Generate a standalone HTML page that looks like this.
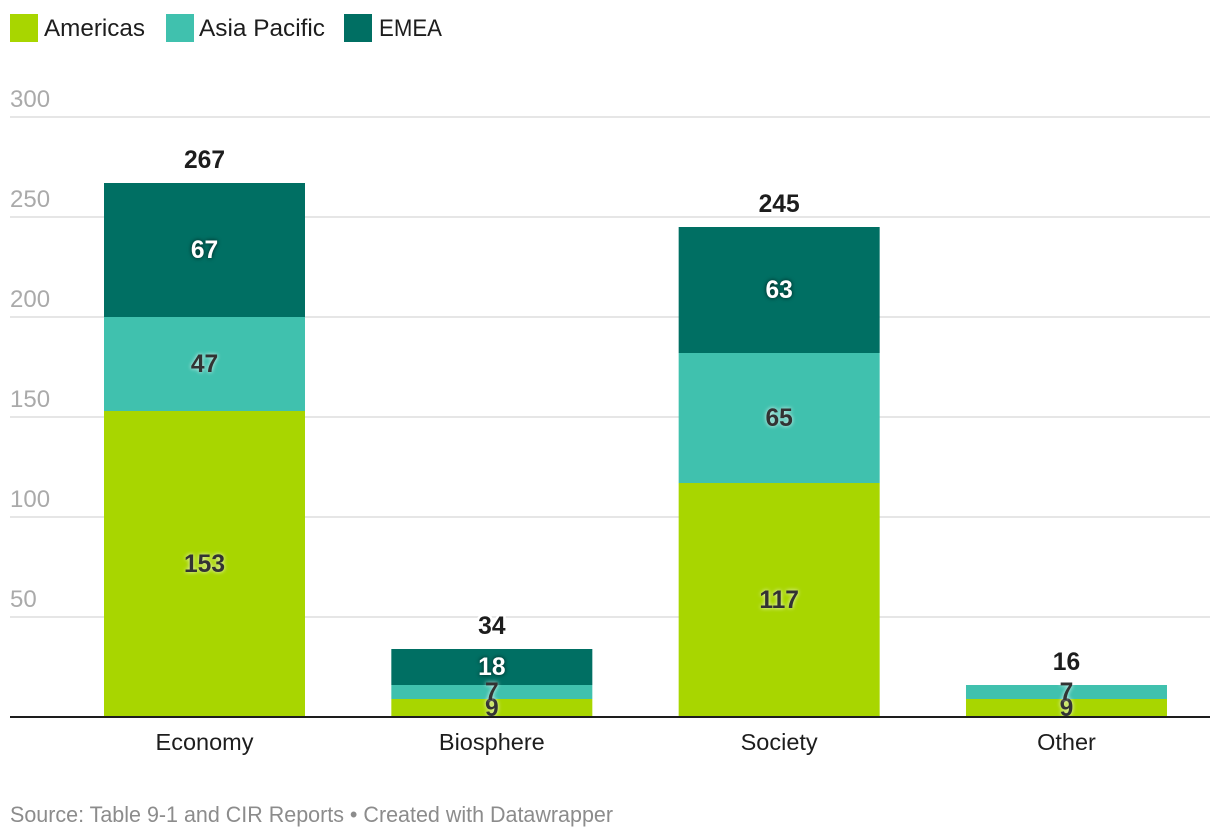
<!DOCTYPE html>
<html lang="en">
<head>
<meta charset="utf-8">
<title>Stacked bar chart</title>
<style>
  html, body { margin: 0; padding: 0; background: #fff; }
  body { width: 1220px; height: 838px; overflow: hidden; }
  svg { display: block; font-family: "Liberation Sans", sans-serif; }
  .seg-light { fill: #fff; filter: drop-shadow(0 0 2px rgba(0,0,0,.75)); }
  .seg-dark { fill: #333; filter: drop-shadow(0 0 2px rgba(255,255,255,.85)); }
</style>
</head>
<body>
<svg id="chart" width="1220" height="838" viewBox="0 0 1220 838" xmlns="http://www.w3.org/2000/svg">
  <g>
    <g>
      <rect x="10" y="14" width="28" height="28" fill="#a8d600"></rect>
      <text x="44" y="36" font-size="24" fill="#1d1d1d" textLength="101" lengthAdjust="spacingAndGlyphs">Americas</text>
    </g>
    <g>
      <rect x="166" y="14" width="28" height="28" fill="#40c1ae"></rect>
      <text x="199" y="36" font-size="24" fill="#1d1d1d" textLength="126" lengthAdjust="spacingAndGlyphs">Asia Pacific</text>
    </g>
    <g>
      <rect x="344" y="14" width="28" height="28" fill="#006f63"></rect>
      <text x="379" y="36" font-size="24" fill="#1d1d1d" textLength="63" lengthAdjust="spacingAndGlyphs">EMEA</text>
    </g>
  </g>
  <g id="grid"></g>
  <g id="bars"></g>
  <rect x="10" y="716" width="1200" height="2" fill="#1d1d1d"></rect>
  <g id="cats"></g>
  <text x="10" y="822" font-size="22" fill="#8c8c8c" textLength="603" lengthAdjust="spacingAndGlyphs">Source: Table 9-1 and CIR Reports • Created with Datawrapper</text>
</svg>
<script>
const categories = ['Economy', 'Biosphere', 'Society', 'Other'];
const americas = [153, 9, 117, 9];
const asiaPacific = [47, 7, 65, 7];
const emea = [67, 18, 63, 0];
const totals = [267, 34, 245, 16];
const yTicks = [50, 100, 150, 200, 250, 300];

const NS = 'http://www.w3.org/2000/svg';
const yScale = v => 717 - v * 2;
const bandStart = 104, bandStep = 287.33, barWidth = 201;
const xScale = i => bandStart + i * bandStep;

function make(parent, tag, attrs, text) {
  const el = document.createElementNS(NS, tag);
  for (const k in attrs) el.setAttribute(k, attrs[k]);
  if (text !== undefined) el.textContent = text;
  parent.appendChild(el);
  return el;
}

const grid = document.getElementById('grid');
yTicks.forEach(t => {
  const line = make(grid, 'rect', { x: 10, y: yScale(t) - 1, width: 1200, height: 2, fill: '#e6e6e6' });
  
  
  const label = make(grid, 'text', { x: 10, y: yScale(t) - 10, 'font-size': 24, fill: '#aaaaaa' }, String(t));
  
  
});

const seriesList = [
  { key: 'americas', values: americas, color: '#a8d600', labelClass: 'seg-dark' },
  { key: 'asia-pacific', values: asiaPacific, color: '#40c1ae', labelClass: 'seg-dark' },
  { key: 'emea', values: emea, color: '#006f63', labelClass: 'seg-light' }
];

const bars = document.getElementById('bars');
const labelLayer = [];
categories.forEach((cat, i) => {
  let base = 0;
  seriesList.forEach(s => {
    const v = s.values[i];
    if (!v) return;
    const top = yScale(base + v);
    const r = make(bars, 'rect', { x: xScale(i), y: top, width: barWidth, height: yScale(base) - top, fill: s.color });
    
    
    labelLayer.push({ cat, key: s.key, v, cls: s.labelClass, x: xScale(i) + barWidth / 2, y: yScale(base + v / 2) + 8 });
    base += v;
  });
  const total = make(bars, 'text', {
    x: xScale(i) + barWidth / 2, y: yScale(totals[i]) - 15, 'text-anchor': 'middle',
    'font-size': 24.6, 'font-weight': 700, fill: '#1d1d1d',
    stroke: '#fff', 'stroke-width': 5, 'paint-order': 'stroke'
  }, String(totals[i]));
  
  
});

labelLayer.forEach(l => {
  const t = make(bars, 'text', { x: l.x, y: l.y, 'text-anchor': 'middle', 'font-size': 24.6, 'font-weight': 700, class: l.cls }, String(l.v));
  
  
});

const cats = document.getElementById('cats');
categories.forEach((cat, i) => {
  const t = make(cats, 'text', { x: xScale(i) + barWidth / 2, y: 750, 'text-anchor': 'middle', 'font-size': 23.5, fill: '#1d1d1d' }, cat);
  
  
});
</script>
</body>
</html>
